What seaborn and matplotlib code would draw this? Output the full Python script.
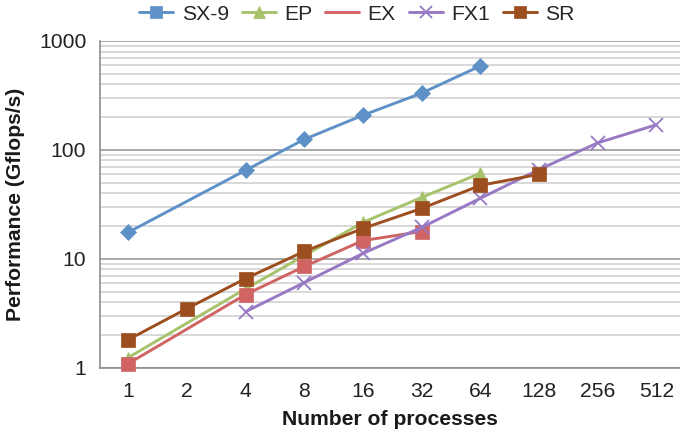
import matplotlib
matplotlib.use("Agg")
import matplotlib.pyplot as plt
import seaborn as sns
import pandas as pd
from matplotlib.lines import Line2D
from matplotlib.ticker import LogLocator, FixedLocator, NullFormatter, FixedFormatter

# ---- data ----
processes = ["1", "2", "4", "8", "16", "32", "64", "128", "256", "512"]

sx9_procs = ["1", "4", "8", "16", "32", "64"]
sx9_vals = [17.5, 65, 125, 208, 332, 590]

ep_procs = ["1", "4", "8", "16", "32", "64"]
ep_vals = [1.24, 5.3, 10.7, 21.6, 36.6, 61]

ex_procs = ["1", "4", "8", "16", "32"]
ex_vals = [1.09, 4.7, 8.5, 14.7, 17.8]

fx1_procs = ["4", "8", "16", "32", "64", "128", "256", "512"]
fx1_vals = [3.27, 6.05, 11.2, 19.4, 35.9, 66, 116, 170]

sr_procs = ["1", "2", "4", "8", "16", "32", "64", "128"]
sr_vals = [1.81, 3.49, 6.59, 11.7, 19.0, 29.0, 47.2, 59.7]

y_ticks = [1, 10, 100, 1000]
y_tick_labels = ["1", "10", "100", "1000"]

series_names = ["SX-9", "EP", "EX", "FX1", "SR"]

# ---- style ----
sns.set_style("white")
plt.rcParams["font.family"] = ["Liberation Sans", "DejaVu Sans"]
FS = 15.2

colors = {
    "SX-9": "#5E91C7",
    "EP": "#A6C36B",
    "EX": "#CF6462",
    "FX1": "#9779C4",
    "SR": "#9D4E1F",
}
markers = {"SX-9": "D", "EP": "^", "EX": "s", "FX1": "x", "SR": "s"}
msizes = {"SX-9": 8.6, "EP": 8, "EX": 9.5, "FX1": 9.5, "SR": 9.5}

pos = {p: i for i, p in enumerate(processes)}
data = {
    "SX-9": (sx9_procs, sx9_vals),
    "EP": (ep_procs, ep_vals),
    "EX": (ex_procs, ex_vals),
    "FX1": (fx1_procs, fx1_vals),
    "SR": (sr_procs, sr_vals),
}

fig = plt.figure(figsize=(6.8, 4.34), dpi=100)
ax = fig.add_axes([99.5 / 680, (434 - 367.7) / 434, 1 - 99.5 / 680, (367.7 - 41) / 434])

for name in series_names:
    procs, vals = data[name]
    df = pd.DataFrame({"x": [pos[p] for p in procs], "y": vals})
    c = colors[name]
    sns.lineplot(
        data=df, x="x", y="y", ax=ax, color=c, linewidth=2.1,
        marker=markers[name], markersize=msizes[name],
        markeredgecolor=c, markerfacecolor=c,
        markeredgewidth=1.3 if name == "FX1" else 0.5,
        legend=False, zorder=3, clip_on=False,
    )

ax.set_yscale("log")
ax.set_ylim(1, 1000)
ax.set_xlim(-0.49, (680 - 128) / 58.7)

# grid
ax.yaxis.set_major_locator(FixedLocator(y_ticks))
ax.yaxis.set_major_formatter(FixedFormatter(y_tick_labels))
ax.yaxis.set_minor_locator(LogLocator(base=10, subs=range(2, 10)))
ax.yaxis.set_minor_formatter(NullFormatter())
ax.grid(axis="y", which="major", color="#A8A8A8", linewidth=1.4, zorder=0)
ax.grid(axis="y", which="minor", color="#D6D6D6", linewidth=1.3, zorder=0)
ax.grid(axis="x", visible=False)
ax.set_axisbelow(True)

ax.set_xticks(range(len(processes)))
ax.set_xticklabels(processes)

for s in ["top", "right"]:
    ax.spines[s].set_visible(False)
for s in ["left", "bottom"]:
    ax.spines[s].set_color("#8E8E8E")
    ax.spines[s].set_linewidth(1.2)

ax.tick_params(axis="y", which="major", direction="out", length=3.5, width=1.2,
               color="#8E8E8E", labelsize=FS, labelcolor="#222222", pad=6)
ax.tick_params(axis="y", which="minor", length=0)
ax.tick_params(axis="x", which="major", direction="inout", length=6, width=1.2,
               color="#8E8E8E", labelsize=FS, labelcolor="#222222", pad=7)

ax.set_xlabel("Number of processes", fontsize=FS, fontweight="bold", color="#1a1a1a")
ax.set_ylabel("Performance (Gflops/s)", fontsize=FS, fontweight="bold", color="#1a1a1a")
ax.xaxis.set_label_coords(0.5, -0.128)
ax.yaxis.set_label_coords(-0.128, 0.5)

# legend
handles = []
leg_markers = {"SX-9": "s", "EP": "^", "EX": None, "FX1": "x", "SR": "s"}
leg_ms = {"SX-9": 9, "EP": 8, "EX": 0, "FX1": 9, "SR": 9}
for name in series_names:
    c = colors[name]
    handles.append(Line2D([0], [0], color=c, linewidth=2.1,
                          marker=leg_markers[name], markersize=leg_ms[name],
                          markeredgecolor=c, markerfacecolor=c,
                          markeredgewidth=1.3 if name == "FX1" else 0.5))
fig.legend(handles, series_names, loc="center", bbox_to_anchor=(357 / 680, 1 - 14 / 434),
           ncol=5, frameon=False, fontsize=FS, handlelength=1.6, handletextpad=0.4,
           columnspacing=0.62, borderaxespad=0, borderpad=0)

fig.savefig("out.png", dpi=100)
